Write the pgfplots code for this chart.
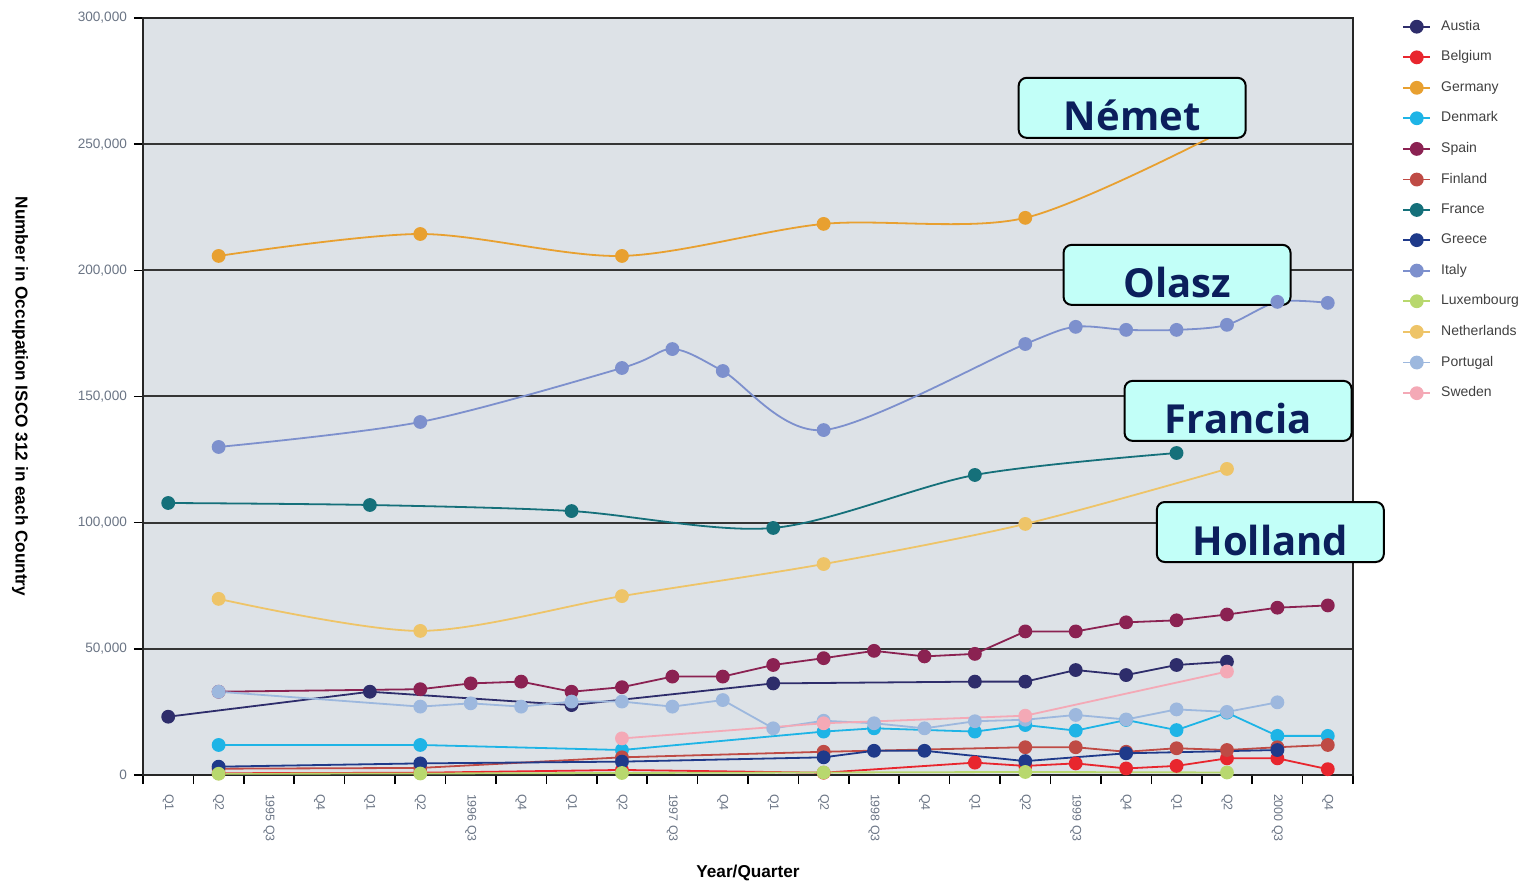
\documentclass[border=0pt]{standalone}
\usepackage{pgfplots}
\pgfplotsset{compat=1.18}
\usepackage{fontspec}
\setmainfont{Liberation Sans}
\newfontfamily\annotfont{Open Sans}
\definecolor{cAustria}{HTML}{2E2D6B}
\definecolor{cBelgium}{HTML}{E8262E}
\definecolor{cGermany}{HTML}{E8A030}
\definecolor{cDenmark}{HTML}{1EB4E6}
\definecolor{cSpain}{HTML}{8B2252}
\definecolor{cFinland}{HTML}{BF4B45}
\definecolor{cFrance}{HTML}{15707A}
\definecolor{cGreece}{HTML}{1F3A8A}
\definecolor{cItaly}{HTML}{7D90CD}
\definecolor{cLux}{HTML}{B8D86E}
\definecolor{cNeth}{HTML}{EEC468}
\definecolor{cPortugal}{HTML}{9DB8DE}
\definecolor{cSweden}{HTML}{F4A9B6}
\definecolor{plotbg}{RGB}{221,226,231}
\definecolor{gridc}{HTML}{353535}
\definecolor{ticklab}{HTML}{6B7585}
\definecolor{boxfill}{HTML}{C2FFF8}
\definecolor{navytext}{HTML}{0B1F5C}
\begin{document}
\begin{tikzpicture}
\useasboundingbox (-71.5pt,-54pt) rectangle (693.5pt,387.5pt);
\begin{axis}[
  at={(0,0)}, anchor=south west,
  width=605pt, height=378.5pt, scale only axis,
  xmin=-0.5, xmax=23.5, ymin=0, ymax=300000,
  clip=false,
  axis background/.style={fill=plotbg},
  axis line style={line width=0.9pt, black!85},
  xtick pos=bottom, ytick pos=left,
  xtick={-0.5,0.5,...,23.5},
  x tick label as interval,
  xticklabels={Q1,Q2,1995 Q3,Q4,Q1,Q2,1996 Q3,Q4,Q1,Q2,1997 Q3,Q4,Q1,Q2,1998 Q3,Q4,Q1,Q2,1999 Q3,Q4,Q1,Q2,2000 Q3,Q4},
  x tick label style={rotate=-90, anchor=west, font=\fontsize{6.2}{7}\selectfont, text=ticklab},
  xticklabel shift=1.5pt,
  ytick={0,50000,100000,150000,200000,250000,300000},
  yticklabels={0,{50,000},{100,000},{150,000},{200,000},{250,000},{300,000}},
  y tick label style={font=\fontsize{6.8}{8}\selectfont, text=ticklab},
  tick align=outside, major tick length=4.5pt,
  tick style={black, line width=0.8pt},
  ymajorgrids, grid style={line width=1pt, gridc},
  every axis y label/.style={at={(axis description cs:-0.1016,0.5)}, rotate=-90, anchor=center, font=\bfseries\fontsize{8.6}{10}\selectfont},
  every axis x label/.style={at={(axis description cs:0.5,-0.1295)}, anchor=center, font=\bfseries\fontsize{8.6}{10}\selectfont},
  ylabel={Number in Occupation ISCO 312 in each Country},
  xlabel={Year/Quarter},
  legend cell align=left,
  legend style={at={(1.0355,1.003)}, anchor=north west, draw=none, fill=none,
    font=\fontsize{7}{8}\selectfont, row sep=8.75pt, column sep=5pt,
    nodes={inner sep=0pt, text=black!75}},
  legend image code/.code={\draw[mark repeat=2,mark phase=2] plot coordinates {(0pt,0pt)(6.75pt,0pt)(13.5pt,0pt)};},
  every axis plot/.append style={line width=0.9pt, mark=*, mark size=3pt, mark options={solid}},
]
\addplot[color=cAustria] coordinates {(0,23100)(4,33000)(8,27700)(12,36300)(16,37000)(17,37000)(18,41600)(19,39600)(20,43600)(21,44900)};
\addlegendentry{Austia}
\addplot[color=cBelgium] coordinates {(1,700)(5,900)(9,2000)(13,900)(16,4900)(17,3600)(18,4600)(19,2600)(20,3600)(21,6600)(22,6600)(23,2300)};
\addlegendentry{Belgium}
\addplot[color=cGermany, smooth, mark indices={1,2,3,4,5}, legend image post style={mark indices={2}}] coordinates {(1,205700)(5,214400)(9,205700)(13,218400)(17,220800)(21,256000)};
\addlegendentry{Germany}
\addplot[color=cDenmark] coordinates {(1,11900)(5,11900)(9,9900)(13,17200)(14,18500)(16,17200)(17,19800)(18,17600)(19,21800)(20,17800)(21,24700)(22,15500)(23,15500)};
\addlegendentry{Denmark}
\addplot[color=cSpain] coordinates {(1,33000)(5,34000)(6,36300)(7,37000)(8,33000)(9,34800)(10,39000)(11,39000)(12,43600)(13,46300)(14,49200)(15,47000)(16,48000)(17,56900)(18,56900)(19,60500)(20,61300)(21,63600)(22,66300)(23,67200)};
\addlegendentry{Spain}
\addplot[color=cFinland] coordinates {(1,2500)(5,2800)(9,7000)(13,9200)(17,11000)(18,11000)(19,9200)(20,10600)(21,9900)(22,11000)(23,11900)};
\addlegendentry{Finland}
\addplot[color=cFrance, smooth] coordinates {(0,107800)(4,107000)(8,104600)(12,97900)(16,118900)(20,127600)};
\addlegendentry{France}
\addplot[color=cGreece] coordinates {(1,3300)(5,4600)(9,5300)(13,7000)(14,9600)(15,9600)(17,5500)(19,8600)(22,9900)};
\addlegendentry{Greece}
\addplot[color=cItaly, smooth] coordinates {(1,130000)(5,139900)(9,161300)(10,168800)(11,160100)(13,136700)(17,170800)(18,177600)(19,176400)(20,176400)(21,178400)(22,187500)(23,187100)};
\addlegendentry{Italy}
\addplot[color=cLux] coordinates {(1,500)(5,600)(9,800)(13,1000)(17,1200)(21,1000)};
\addlegendentry{Luxembourg}
\addplot[color=cNeth, smooth] coordinates {(1,69800)(5,57100)(9,70900)(13,83600)(17,99500)(21,121300)};
\addlegendentry{Netherlands}
\addplot[color=cPortugal] coordinates {(1,33000)(5,27100)(6,28400)(7,27100)(8,29100)(9,29100)(10,27100)(11,29700)(12,18500)(13,21500)(14,20500)(15,18500)(16,21300)(17,21900)(18,23800)(19,22000)(20,26000)(21,25000)(22,28800)};
\addlegendentry{Portugal}
\addplot[color=cSweden] coordinates {(9,14500)(13,20500)(17,23500)(21,41000)};
\addlegendentry{Sweden}
\tikzset{annot/.style={draw=black, line width=1pt, rounded corners=4pt, fill=boxfill,
  minimum width=113.5pt, minimum height=30pt, inner sep=0pt, text=navytext,
  text height=23pt, text depth=0pt,
  font=\annotfont\bfseries\fontsize{20}{24}\selectfont}}
\node[annot] at (axis cs:19.12,264400) {Német};
\node[annot] at (axis cs:20.01,198200) {Olasz};
\node[annot] at (axis cs:21.22,144300) {Francia};
\node[annot] at (axis cs:21.86,96300) {Holland};
\end{axis}
\end{tikzpicture}
\end{document}
